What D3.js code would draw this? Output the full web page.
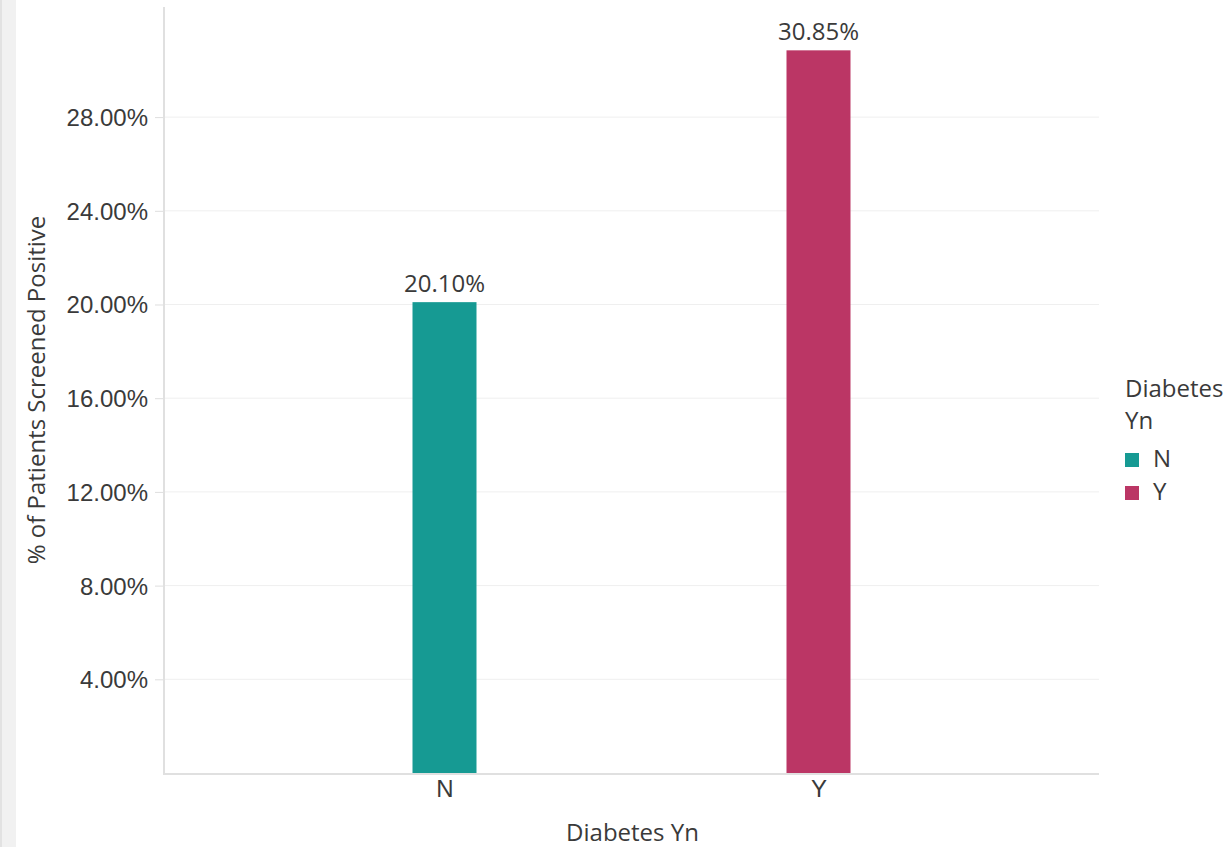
<!DOCTYPE html>
<html>
<head>
<meta charset="utf-8">
<script src="https://cdn.jsdelivr.net/npm/d3@7"></script>
<style>
  html, body { margin: 0; padding: 0; background: #fff; }
  svg { display: block; font-family: "Open Sans", "Noto Sans", sans-serif; }
</style>
</head>
<body>
<svg id="chart" width="1229" height="847"></svg>
<script>
// Screening positivity by diabetes status
const categories = ["N", "Y"];
const values = [20.10, 30.85];
const colors = ["#169a93", "#bb3665"];
const yTicks = [4, 8, 12, 16, 20, 24, 28];
const xTitle = "Diabetes Yn";
const yTitle = "% of Patients Screened Positive";
const legendTitle = ["Diabetes", "Yn"];

const svg = d3.select("#chart");
const textColor = "#3a3a3a";
const fontSize = 24;

const plot = { left: 164, right: 1099, top: 7, bottom: 773 };

// panel edge on the far left
svg.append("rect").attr("x", 0).attr("y", 0).attr("width", 2).attr("height", 847).attr("fill", "#e2e2e2");
svg.append("rect").attr("x", 2).attr("y", 0).attr("width", 14).attr("height", 847).attr("fill", "#f1f1f1");

const x = d3.scalePoint().domain(categories).range([plot.left, plot.right]).padding(0.75);
const y = d3.scaleLinear().domain([0, 32.7]).range([plot.bottom, plot.top]);
const fmt = d => d.toFixed(2) + "%";

// gridlines
svg.append("g")
  .selectAll("line")
  .data(yTicks)
  .join("line")
  .attr("x1", plot.left).attr("x2", plot.right)
  .attr("y1", d => y(d)).attr("y2", d => y(d))
  .attr("stroke", "#efefef").attr("stroke-width", 1);

// y axis
const yAxis = svg.append("g")
  .attr("transform", `translate(${plot.left},0)`)
  .call(d3.axisLeft(y).tickValues(yTicks).tickFormat(fmt).tickSize(9).tickPadding(7));
yAxis.select(".domain").remove();
yAxis.selectAll(".tick line").attr("stroke", "#dedede");
yAxis.selectAll(".tick text")
  .attr("fill", textColor).style("font-size", fontSize + "px").attr("dy", "0.35em");
svg.append("line")
  .attr("x1", plot.left).attr("x2", plot.left)
  .attr("y1", plot.top).attr("y2", plot.bottom + 1)
  .attr("stroke", "#e0e0e0").attr("stroke-width", 2);

// x axis
const xAxis = svg.append("g")
  .attr("transform", `translate(0,${plot.bottom})`)
  .call(d3.axisBottom(x).tickSize(0).tickPadding(7));
xAxis.select(".domain").remove();
xAxis.selectAll(".tick text")
  .attr("fill", textColor).style("font-size", fontSize + "px").attr("dy", "0.71em");
svg.append("line")
  .attr("x1", plot.left - 1).attr("x2", plot.right)
  .attr("y1", plot.bottom + 1).attr("y2", plot.bottom + 1)
  .attr("stroke", "#e0e0e0").attr("stroke-width", 2);

// bars
const barW = 64;
const rows = categories.map((c, i) => ({ cat: c, val: values[i], color: colors[i] }));
svg.append("g")
  .selectAll("rect")
  .data(rows)
  .join("rect")
  .attr("x", d => x(d.cat) - barW / 2)
  .attr("width", barW)
  .attr("y", d => y(d.val))
  .attr("height", d => y(0) - y(d.val))
  .attr("fill", d => d.color);

// value labels
svg.append("g")
  .selectAll("text")
  .data(rows)
  .join("text")
  .attr("x", d => x(d.cat))
  .attr("y", d => y(d.val) - 10)
  .attr("text-anchor", "middle")
  .attr("fill", textColor)
  .style("font-size", fontSize + "px")
  .text(d => fmt(d.val));

// axis titles
svg.append("text")
  .attr("x", (plot.left + plot.right) / 2 + 1)
  .attr("y", 841)
  .attr("text-anchor", "middle")
  .attr("fill", textColor)
  .style("font-size", fontSize + "px")
  .text(xTitle);

svg.append("text")
  .attr("transform", `translate(45,${(plot.top + plot.bottom) / 2}) rotate(-90)`)
  .attr("text-anchor", "middle")
  .attr("fill", textColor)
  .style("font-size", fontSize + "px")
  .text(yTitle);

// legend
const legend = svg.append("g").attr("transform", "translate(1125,0)");
legend.selectAll("text.title")
  .data(legendTitle)
  .join("text")
  .attr("class", "title")
  .attr("x", 0)
  .attr("y", (d, i) => 397 + i * 32)
  .attr("fill", textColor)
  .style("font-size", fontSize + "px")
  .text(d => d);
const items = legend.selectAll("g.item")
  .data(rows)
  .join("g")
  .attr("class", "item")
  .attr("transform", (d, i) => `translate(0,${453 + i * 33})`);
items.append("rect").attr("width", 14).attr("height", 14).attr("fill", d => d.color);
items.append("text")
  .attr("x", 28).attr("y", 14)
  .attr("fill", textColor)
  .style("font-size", fontSize + "px")
  .text(d => d.cat);
</script>
</body>
</html>
